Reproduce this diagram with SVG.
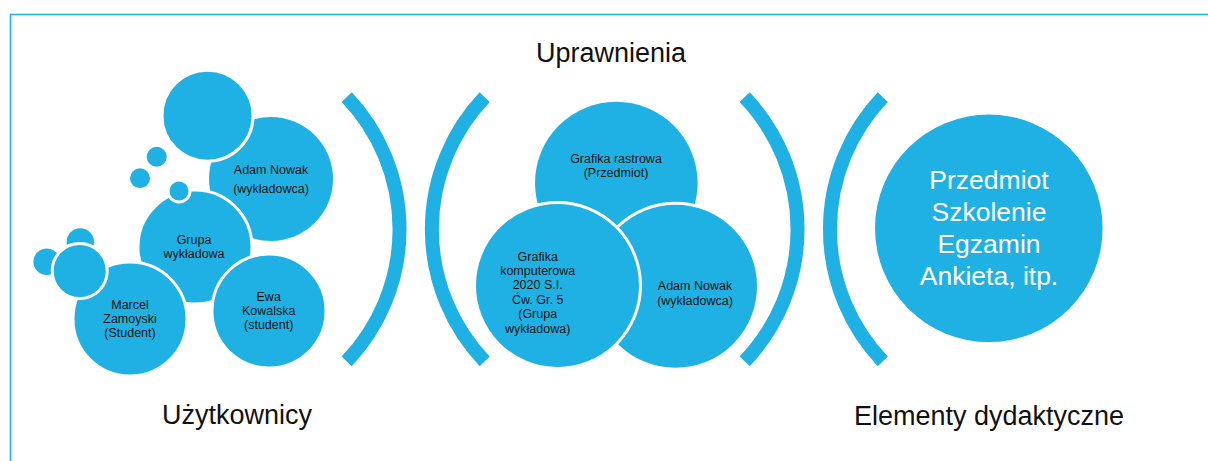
<svg xmlns="http://www.w3.org/2000/svg" width="1208" height="461" viewBox="0 0 1208 461">
<style>
.c{fill:#20b1e4}
.cw{fill:#20b1e4;stroke:#ffffff;stroke-width:3}
.br{fill:none;stroke:#20b1e4;stroke-width:14;stroke-linecap:butt}
.t{font-family:"Liberation Sans",Arial,sans-serif;font-size:12.5px;fill:#111111;text-anchor:middle}
.h{font-family:"Liberation Sans",Arial,sans-serif;font-size:27px;fill:#111111;text-anchor:middle}
.w{font-family:"Liberation Sans",Arial,sans-serif;font-size:26.5px;fill:#ffffff;text-anchor:middle}
</style>
<rect x="10.5" y="14.5" width="1300" height="600" fill="none" stroke="#20b1e4" stroke-width="1.6"/>

<g id="connectors">
<path class="br" d="M346.7 97.2 A191.4 191.4 0 0 1 346.7 361.3"/>
<path class="br" d="M484.7 97.2 A191.4 191.4 0 0 0 484.7 361.3"/>
<path class="br" d="M744.7 97.2 A191.4 191.4 0 0 1 744.7 361.3"/>
<path class="br" d="M882.8 97.2 A191.4 191.4 0 0 0 882.8 361.3"/>
</g>

<g id="title-uprawnienia"><text class="h" x="611" y="62">Uprawnienia</text></g>
<g id="title-uzytkownicy"><text class="h" x="237" y="424">Użytkownicy</text></g>
<g id="title-elementy"><text class="h" x="989" y="425">Elementy dydaktyczne</text></g>

<g id="node-adam-nowak-1">
<circle class="c" cx="271" cy="179" r="62"/>
<text class="t" x="271" y="174">Adam Nowak</text>
<text class="t" x="271" y="193">(wykładowca)</text>
</g>
<g id="node-top-bubble"><circle class="cw" cx="207.5" cy="115.7" r="45.5"/></g>
<g id="node-small-bubbles">
<circle class="c" cx="156.7" cy="156.7" r="10"/>
<circle class="c" cx="140" cy="178.3" r="10"/>
</g>
<g id="node-grupa">
<circle class="cw" cx="195" cy="247" r="57"/>
<text class="t" x="194" y="244">Grupa</text>
<text class="t" x="194" y="258.3">wykładowa</text>
</g>
<g id="node-grupa-bubble"><circle class="cw" cx="179" cy="191" r="11"/></g>
<g id="node-ewa">
<circle class="cw" cx="269" cy="311" r="57"/>
<text class="t" x="268.7" y="301">Ewa</text>
<text class="t" x="268.7" y="315">Kowalska</text>
<text class="t" x="268.7" y="328.5">(student)</text>
</g>
<g id="node-marcel">
<circle class="cw" cx="130" cy="319" r="57"/>
<text class="t" x="130" y="309.3">Marcel</text>
<text class="t" x="130" y="323.3">Zamoyski</text>
<text class="t" x="130" y="337.3">(Student)</text>
</g>
<g id="node-marcel-bubbles">
<circle class="c" cx="80.3" cy="242" r="13.7"/>
<circle class="c" cx="46.7" cy="261.7" r="13.3"/>
<circle class="cw" cx="79.7" cy="271" r="27.5"/>
</g>

<g id="node-grafika-rastrowa">
<circle class="c" cx="616.3" cy="183" r="81.3"/>
<text class="t" x="616" y="162.7">Grafika rastrowa</text>
<text class="t" x="616" y="176.7">(Przedmiot)</text>
</g>
<g id="node-adam-nowak-2">
<circle class="cw" cx="675.5" cy="286.3" r="83"/>
<text class="t" x="695" y="290">Adam Nowak</text>
<text class="t" x="695" y="305">(wykładowca)</text>
</g>
<g id="node-grafika-komputerowa">
<circle class="cw" cx="557.5" cy="285.5" r="83"/>
<text class="t" x="537.7" y="260.7">Grafika</text>
<text class="t" x="537.7" y="274.7">komputerowa</text>
<text class="t" x="537.7" y="289.3">2020 S.I.</text>
<text class="t" x="537.7" y="304">Ćw. Gr. 5</text>
<text class="t" x="537.7" y="318.3">(Grupa</text>
<text class="t" x="537.7" y="332.7">wykładowa)</text>
</g>

<g id="node-elementy">
<circle class="c" cx="988.8" cy="228.3" r="113.8"/>
<text class="w" x="989" y="189">Przedmiot</text>
<text class="w" x="989" y="221">Szkolenie</text>
<text class="w" x="989" y="253">Egzamin</text>
<text class="w" x="989" y="284.5">Ankieta, itp.</text>
</g>
</svg>
